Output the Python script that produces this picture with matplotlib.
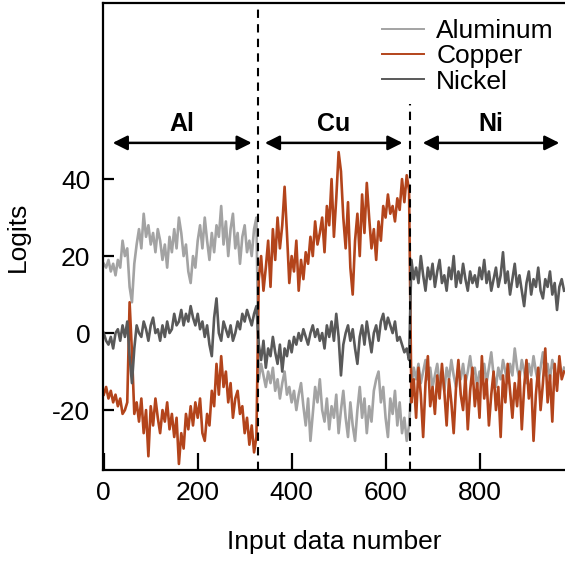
import numpy as np
import matplotlib.pyplot as plt

plt.rcParams['font.family'] = ['Liberation Sans', 'DejaVu Sans']
plt.rcParams['axes.unicode_minus'] = False

# input index, sampled every 5 points
x = np.arange(0, 985, 5)

# logits per class, split by block of input data (Al, Cu, Ni)
aluminum = [
    18, 17, 19, 16, 18, 15, 19, 17, 24, 20, 22, 12, 8, 18, 23, 27, 22, 31, 25, 28,
    23, 26, 21, 27, 24, 19, 23, 17, 25, 21, 27, 22, 30, 26, 20, 23, 16, 13, 20, 17,
    24, 28, 22, 30, 24, 19, 26, 21, 28, 25, 33, 23, 29, 20, 27, 31, 22, 26, 18, 25,
    28, 21, 24, 20, 27, 30,
    -12, -8, -11, -14, -10, -13, -9, -15, -12, -17, -13, -10, -16, -14, -18, -15, -20, -16, -13, -19,
    -24, -17, -28, -21, -14, -18, -12, -20, -23, -17, -25, -19, -22, -16, -26, -20, -15, -22, -27, -18,
    -24, -28, -20, -14, -22, -17, -26, -19, -23, -15, -12, -10, -18, -14, -22, -27, -17, -21, -15, -24,
    -18, -26, -22, -28, -24,
    -14, -9, -12, -8, -13, -10, -7, -12, -9, -14, -11, -8, -13, -10, -15, -9, -12, -7, -11, -14,
    -9, -12, -8, -13, -10, -6, -11, -9, -14, -10, -12, -8, -13, -9, -5, -11, -14, -9, -12, -7,
    -10, -13, -8, -11, -4, -9, -12, -7, -10, -13, -8, -11, -6, -10, -13, -9, -5, -11, -8, -12,
    -7, -10, -13, -8, -11, -9,
]
copper = [
    -16, -14, -17, -15, -18, -16, -19, -17, -21, -20, -18, 8, -5, -21, -18, -23, -17, -26, -20, -32,
    -19, -24, -17, -22, -26, -20, -23, -18, -25, -21, -27, -22, -34, -26, -30, -21, -25, -19, -24, -18,
    -22, -17, -26, -28, -21, -24, -15, -19, -8, -16, -6, -14, -10, -18, -13, -22, -17, -15, -21, -19,
    -26, -22, -29, -24, -31, -27,
    14, 20, 11, 17, 24, 12, 27, 19, 30, 22, 28, 38, 26, 13, 20, 16, 24, 11, 19, 14,
    21, 18, 25, 20, 29, 23, 26, 30, 21, 33, 28, 40, 25, 35, 47, 42, 30, 22, 34, 17,
    10, 24, 31, 20, 36, 26, 39, 30, 22, 27, 19, 29, 24, 33, 30, 36, 31, 33, 29, 35,
    32, 40, 34, 41, 37,
    -18, -12, -22, -9, -16, -27, -13, -6, -19, -14, -21, -11, -17, -8, -15, -24, -12, -18, -26, -14,
    -7, -16, -20, -11, -25, -15, -9, -19, -13, -22, -6, -17, -12, -24, -16, -10, -20, -14, -27, -11,
    -18, -8, -15, -22, -13, -19, -10, -25, -14, -7, -17, -12, -28, -16, -9, -20, -13, -4, -18, -11,
    -23, -8, -15, -6, -12, -10,
]
nickel = [
    0, -2, -3, -1, -4, 0, 1, -2, 2, -1, 3, -6, -13, -4, 2, 0, -1, 3, 1, -2,
    2, 4, 0, 1, -2, 2, -1, 3, 0, 1, 5, 2, 3, 6, 2, 5, 3, 7, 4, 2,
    5, 1, 3, -1, 2, -3, -6, 4, 9, 0, -2, 3, 1, -1, 2, -2, 0, 3, 1, 5,
    3, 6, 4, 2, 5, 7,
    -3, -7, -2, -9, -4, -6, -1, -5, -8, -3, -10, -4, -6, -2, -5, -1, -3, 0, -2, 1,
    -1, -3, 0, 2, -1, 1, -2, 0, -4, 2, -1, 3, -2, 5, -1, -11, -3, 0, 2, -2,
    1, -4, -8, -1, 2, -3, 3, -1, -5, 0, 2, -2, 3, 5, 1, 4, 2, 0, 3, -2,
    -1, -3, -5, -4, -7,
    19, 14, 17, 13, 20, 15, 11, 17, 14, 18, 12, 16, 19, 13, 15, 11, 17, 14, 20, 12,
    16, 13, 18, 14, 11, 16, 13, 15, 12, 17, 14, 19, 13, 16, 11, 14, 17, 12, 15, 21,
    13, 16, 10, 14, 18, 12, 15, 11, 7, 13, 16, 10, 14, 12, 17, 11, 9, 14, 12, 16,
    10, 13, 6, 12, 14, 11,
]

labels = ['Aluminum', 'Copper', 'Nickel']
colors = ['#a3a3a3', '#b3441b', '#595959']

# block boundaries and block names
bounds = [328, 652]
blocks = ['Al', 'Cu', 'Ni']
block_spans = [(19, 315), (343, 636), (679, 970)]

fig = plt.figure(figsize=(5.65, 5.61), dpi=100)
ax = fig.add_axes([0.182, 0.162, 0.818, 0.8324])

for y, lab, c in zip([aluminum, copper, nickel], labels, colors):
    ax.plot(x, y, color=c, lw=1.9, label=lab)

for b in bounds:
    ax.axvline(b, color='black', ls=(0, (4, 3)), lw=1.5, zorder=3)

for name, (a, b) in zip(blocks, block_spans):
    ax.annotate('', xy=(a, 49.4), xytext=(b, 49.4),
                arrowprops=dict(arrowstyle='<|-|>', color='black', lw=1.8,
                                mutation_scale=22, shrinkA=0, shrinkB=0))
    ax.text((a + b) / 2, 54.3, name, ha='center', va='center',
            fontsize=18, fontweight='bold')

ax.set_xlim(-2, 982)
ax.set_ylim(-35.6, 85.7)
ax.set_xticks([0, 200, 400, 600, 800])
ax.set_yticks([-20, 0, 20, 40])
ax.set_xlabel('Input data number', fontsize=19, labelpad=18)
ax.set_ylabel('Logits', fontsize=19, labelpad=16)

ax.spines['right'].set_visible(False)
for s in ['left', 'top', 'bottom']:
    ax.spines[s].set_linewidth(1.6)
ax.tick_params(axis='both', direction='in', width=1.6, labelsize=19)
ax.tick_params(axis='x', length=12, pad=8)
ax.tick_params(axis='y', length=8, pad=9)

leg = ax.legend(loc='upper right', bbox_to_anchor=(1.01, 1.0), fontsize=19,
                frameon=True, fancybox=False, edgecolor='none', facecolor='white',
                framealpha=1, handlelength=1.6, handletextpad=0.45,
                labelspacing=0.05, borderaxespad=0.2)
leg.set_zorder(5)
for h in leg.get_lines():
    h.set_linewidth(1.4)

fig.savefig('out.png', dpi=100)
